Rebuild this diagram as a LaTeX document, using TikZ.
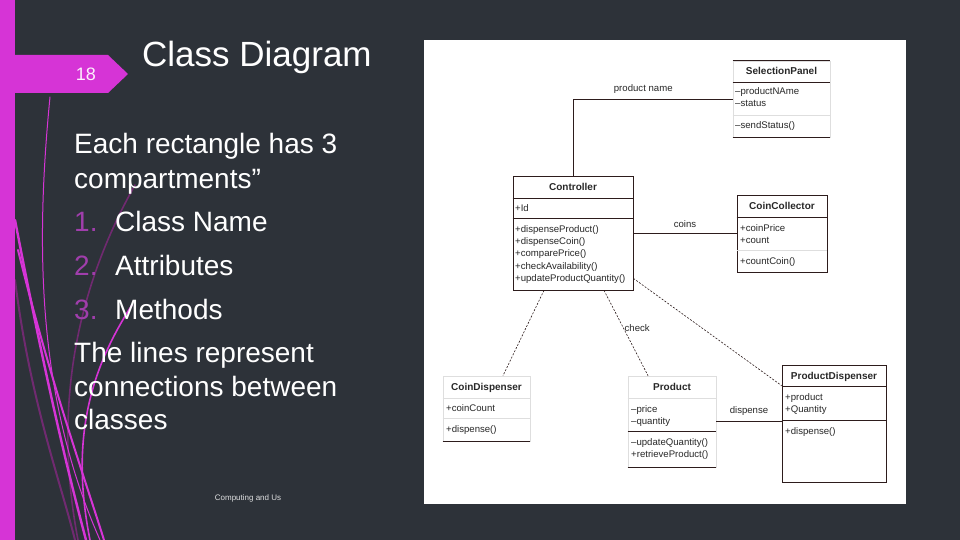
\documentclass[tikz,border=0pt]{standalone}
\usepackage{fontspec}
\setmainfont{Liberation Sans}
\usepackage{tikz}
\usetikzlibrary{positioning,arrows.meta,calc}
\definecolor{slidebg}{RGB}{45,50,57}
\definecolor{magbar}{RGB}{214,52,214}
\definecolor{magdark}{RGB}{112,42,112}
\definecolor{numpurple}{RGB}{160,62,172}
\definecolor{umlline}{RGB}{45,28,28}
\definecolor{umlfaint}{RGB}{222,222,222}
\definecolor{umltext}{RGB}{40,40,40}
\tikzset{
  cls/.style={draw=umlline, line width=0.7pt, inner sep=0pt},
  faintcls/.style={draw=umlfaint, line width=0.7pt, inner sep=0pt},
  sepline/.style={draw=umlline, line width=0.7pt},
  faintsep/.style={draw=umlfaint, line width=0.7pt},
  clsname/.style={anchor=base, inner sep=0pt, text=umltext, font=\fontsize{10}{11}\selectfont\bfseries},
  member/.style={anchor=base west, inner sep=0pt, text=umltext, font=\fontsize{9.6}{11}\selectfont},
  lbl/.style={inner sep=0pt, text=umltext, font=\fontsize{9.6}{11}\selectfont},
  assoc/.style={draw=umlline, line width=0.7pt},
  depend/.style={draw=umlline, line width=0.6pt, dash pattern=on 2pt off 1.5pt},
  body/.style={anchor=base west, inner sep=0pt, text=white, font=\fontsize{28}{35}\selectfont},
  swoosh/.style={line cap=round},
}
\begin{document}
\begin{tikzpicture}[x=1pt,y=-1pt]
  \useasboundingbox (0,0) rectangle (960,540);
  \fill[slidebg] (0,0) rectangle (960,540);

  % left decoration
  \begin{scope}[swoosh]
    \draw[magdark, line width=2pt] (15,280) .. controls (30,400) and (60,480) .. (75,540);
    \draw[magdark, line width=1.6pt] (135,185) .. controls (70,300) and (55,420) .. (78,540);
    \draw[magbar, line width=1pt] (50,97) .. controls (35,250) and (38,400) .. (100,540);
    \draw[magbar, line width=2.4pt] (15,220) .. controls (40,350) and (62,450) .. (86,540);
    \draw[magbar, line width=2pt] (18,250) .. controls (50,380) and (82,470) .. (104,540);
    \draw[magbar, line width=1.6pt] (132,305) .. controls (90,370) and (70,440) .. (90,540);
  \end{scope}
  \fill[magbar] (0,0) rectangle (15,540);
  \fill[magbar] (15,55) -- (108,55) -- (128,74) -- (108,93) -- (15,93) -- cycle;
  \node[anchor=base, inner sep=0pt, text=white!92!magbar, font=\fontsize{18}{20}\selectfont] (pagenum) at (86,81) {18};

  % slide text
  \node[anchor=base west, inner sep=0pt, text=white, font=\fontsize{35}{40}\selectfont] (title) at (142,67) {Class Diagram};
  \node[body] (intro1) at (74,154) {Each rectangle has 3};
  \node[body] (intro2) at (74,189) {compartments”};
  \foreach \t/\y [count=\i] in {Class Name/231, Attributes/275, Methods/319}{
    \node[body, text=numpurple] (num\i) at (74,\y) {\i.};
    \node[body] (item\i) at (115,\y) {\t};
  }
  \node[body] (lines1) at (74,362) {The lines represent};
  \node[body] (lines2) at (74,396) {connections between};
  \node[body] (lines3) at (74,429) {classes};
  \node[anchor=base, inner sep=0pt, text=white!85!slidebg, font=\fontsize{8}{9}\selectfont] (footer) at (248,500) {Computing and Us};

  % diagram panel
  \fill[white] (424,40) rectangle (906,504);

  % SelectionPanel
  \node[faintcls, minimum width=97, minimum height=76] (sel) at (781.5,99) {};
  \draw[sepline] (sel.north west) -- (sel.north east);
  \draw[sepline] (sel.south west) -- (sel.south east);
  \draw[sepline] (sel.west |- 0,82) -- (sel.east |- 0,82);
  \draw[faintsep] (sel.west |- 0,115) -- (sel.east |- 0,115);
  \node[clsname] (selname) at (781.5,75) {SelectionPanel};
  \foreach \t [count=\i] in {--productNAme, --status}
    \node[member] (selA\i) at (735,83+12*\i) {\t};
  \node[member] (selM1) at (735,129) {--sendStatus()};

  % Controller
  \node[cls, minimum width=120, minimum height=114] (ctrl) at (573,233) {};
  \draw[sepline] (ctrl.west |- 0,198) -- (ctrl.east |- 0,198);
  \draw[sepline] (ctrl.west |- 0,218) -- (ctrl.east |- 0,218);
  \node[clsname] (ctrlname) at (573,190.5) {Controller};
  \node[member] (ctrlA1) at (515,211) {+Id};
  \foreach \t [count=\i] in {+dispenseProduct(), +dispenseCoin(), +comparePrice(), +checkAvailability(), +updateProductQuantity()}
    \node[member] (ctrlM\i) at (515,219.7+12.4*\i) {\t};

  % CoinCollector
  \node[cls, minimum width=90, minimum height=77] (coll) at (782,233.5) {};
  \draw[sepline] (coll.west |- 0,217) -- (coll.east |- 0,217);
  \draw[faintsep] (coll.west |- 0,250) -- (coll.east |- 0,250);
  \node[clsname] (collname) at (782,209.5) {CoinCollector};
  \foreach \t [count=\i] in {+coinPrice, +count}
    \node[member] (collA\i) at (740,219+12*\i) {\t};
  \node[member] (collM1) at (740,264) {+countCoin()};

  % CoinDispenser
  \node[faintcls, minimum width=87, minimum height=65] (cdisp) at (486.5,408.5) {};
  \draw[sepline] (cdisp.south west) -- (cdisp.south east);
  \draw[faintsep] (cdisp.west |- 0,398) -- (cdisp.east |- 0,398);
  \draw[faintsep] (cdisp.west |- 0,418) -- (cdisp.east |- 0,418);
  \node[clsname] (cdispname) at (486.5,390.5) {CoinDispenser};
  \node[member] (cdispA1) at (446,411) {+coinCount};
  \node[member] (cdispM1) at (446,432) {+dispense()};

  % Product
  \node[faintcls, minimum width=88, minimum height=91] (prod) at (672,421.5) {};
  \draw[sepline] (prod.south west) -- (prod.south east);
  \draw[faintsep] (prod.west |- 0,398) -- (prod.east |- 0,398);
  \draw[sepline] (prod.west |- 0,431) -- (prod.east |- 0,431);
  \node[clsname] (prodname) at (672,390.5) {Product};
  \foreach \t [count=\i] in {--price, --quantity}
    \node[member] (prodA\i) at (631,400+12*\i) {\t};
  \foreach \t [count=\i] in {--updateQuantity(), +retrieveProduct()}
    \node[member] (prodM\i) at (631,433+12*\i) {\t};

  % ProductDispenser
  \node[cls, minimum width=104, minimum height=117] (pdisp) at (834,423.5) {};
  \draw[sepline] (pdisp.west |- 0,386) -- (pdisp.east |- 0,386);
  \draw[sepline] (pdisp.west |- 0,420) -- (pdisp.east |- 0,420);
  \node[clsname] (pdispname) at (834,379.5) {ProductDispenser};
  \foreach \t [count=\i] in {+product, +Quantity}
    \node[member] (pdispA\i) at (785,388+12*\i) {\t};
  \node[member] (pdispM1) at (785,434) {+dispense()};

  % associations
  \draw[assoc] (ctrl.north) |- node[lbl, above=5pt, pos=0.72] (lblname) {product name} (sel.west);
  \draw[assoc] (ctrl.east) -- node[lbl, above=5pt] (lblcoins) {coins} (ctrl.east -| coll.west);
  \draw[assoc] (prod.east) -- node[lbl, above=6pt, pos=0.5] (lbldisp) {dispense} (prod.east -| pdisp.west);
  \draw[depend] ($(ctrl.south)+(-29,0)$) -- ($(cdisp.north)+(16.5,0)$);
  \draw[depend] ($(ctrl.south)+(31,0)$) -- node[lbl, right=1pt, pos=0.44] (lblcheck) {check} ($(prod.north)+(-24,0)$);
  \draw[depend] ($(ctrl.south east)+(0,-12)$) -- ($(pdisp.north west)+(0,21)$);
\end{tikzpicture}
\end{document}
